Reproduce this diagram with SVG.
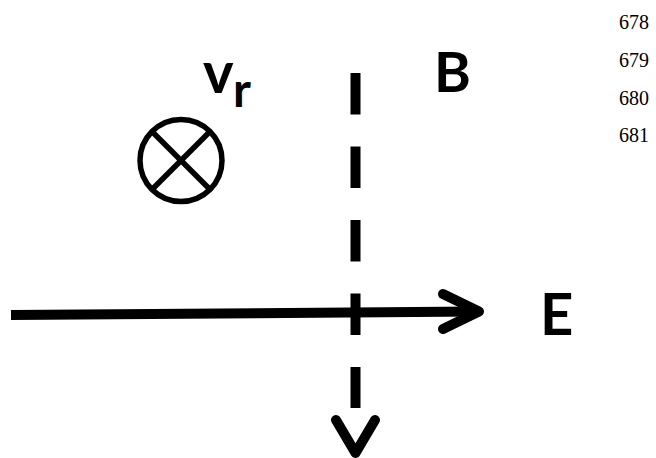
<svg xmlns="http://www.w3.org/2000/svg" width="656" height="458" viewBox="0 0 656 458">
<style>
.lbl{font-family:Lato,"Open Sans","Liberation Sans",sans-serif;font-weight:700;fill:#000}
.num{font-family:"Liberation Serif","Times New Roman",serif;font-size:20px;fill:#000}
.ln{stroke:#000;stroke-width:10;fill:none}
.hd{stroke:#000;stroke-width:10;fill:none;stroke-linecap:round;stroke-linejoin:round}
</style>
<rect width="656" height="458" fill="#fff"/>
<g id="line-numbers">
<text class="num" x="619" y="29">678</text>
<text class="num" x="619" y="67">679</text>
<text class="num" x="619" y="105">680</text>
<text class="num" x="619" y="142">681</text>
</g>
<g id="vr">
<circle cx="181" cy="160.5" r="41" fill="none" stroke="#000" stroke-width="5.5"/>
<line x1="152" y1="131.5" x2="210" y2="189.5" stroke="#000" stroke-width="5.5"/>
<line x1="210" y1="131.5" x2="152" y2="189.5" stroke="#000" stroke-width="5.5"/>
<text class="lbl" x="203" y="93" font-size="58">v</text>
<text class="lbl" x="233" y="107" font-size="48">r</text>
</g>
<g id="B"><text class="lbl" x="434" y="92" font-size="56">B</text></g>
<g id="E"><text class="lbl" x="540" y="335" font-size="58">E</text></g>
<g id="connectors">
<line class="ln" x1="355.5" y1="73" x2="355.5" y2="408" stroke-dasharray="41.5 32"/>
<polyline class="hd" points="336,420 355.5,453 375,420"/>
<line class="ln" x1="11" y1="315" x2="478" y2="311.5"/>
<polyline class="hd" points="443,294 479,311.5 443,329"/>
</g>
</svg>
